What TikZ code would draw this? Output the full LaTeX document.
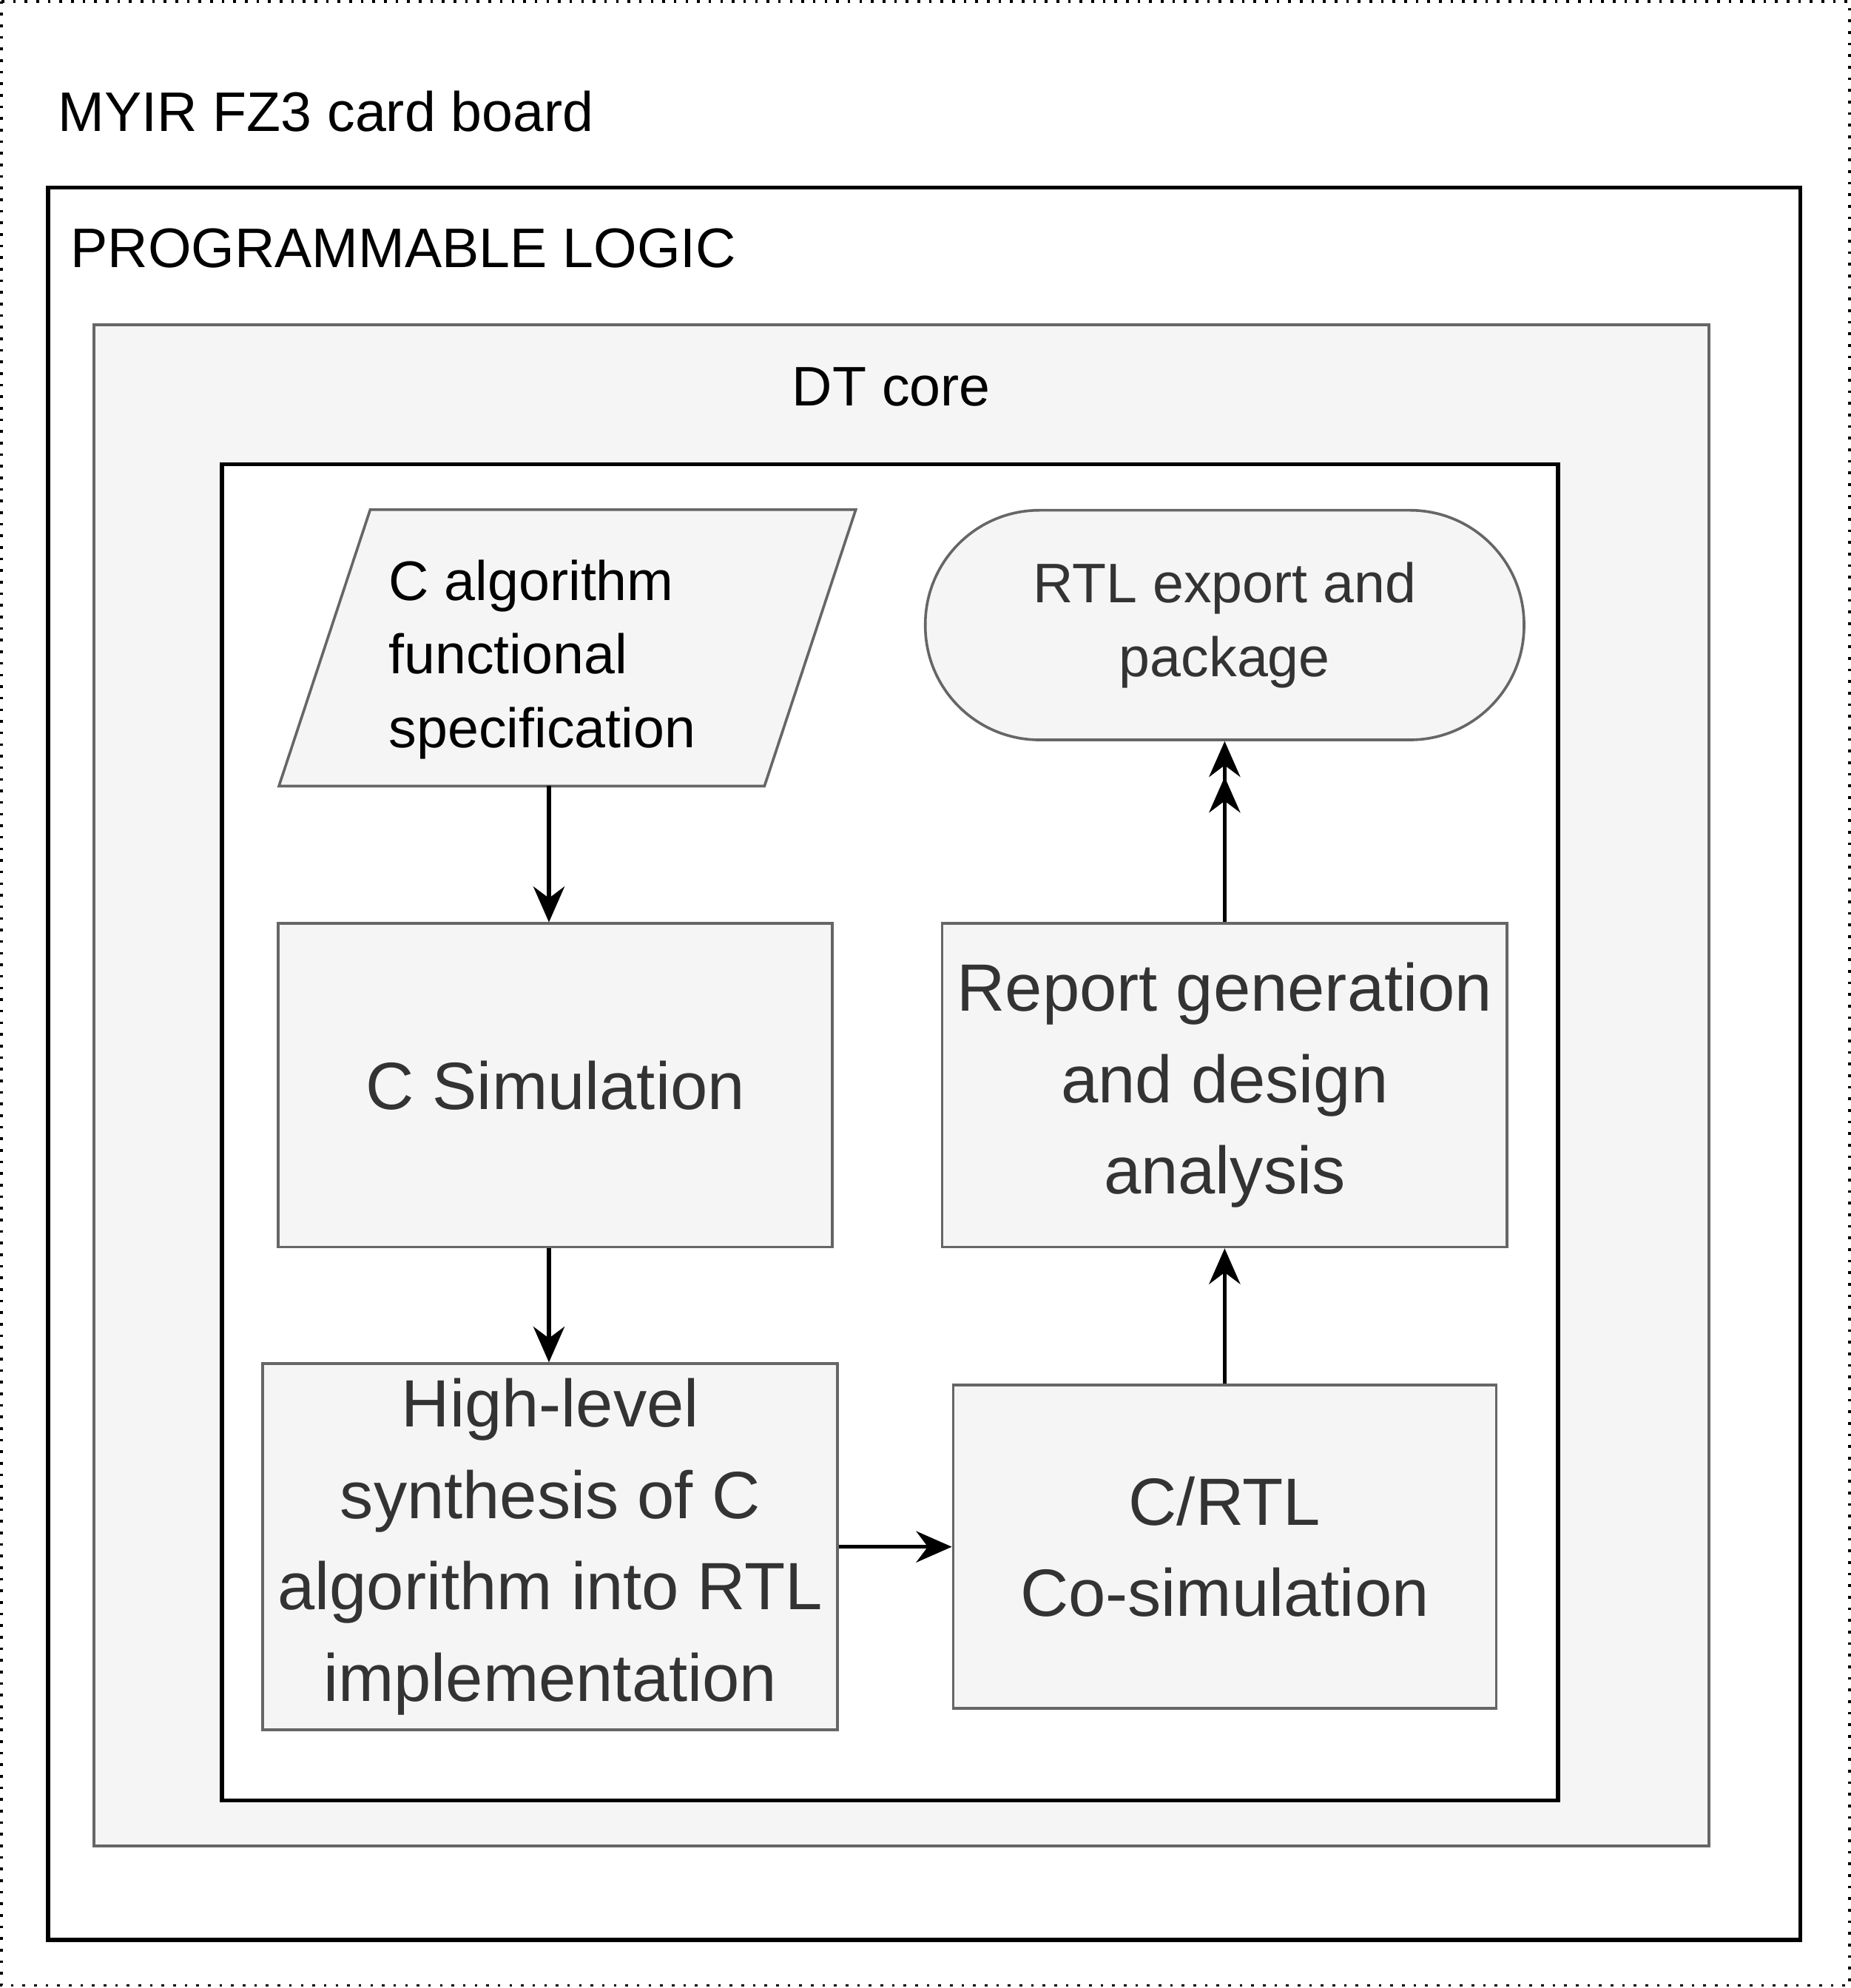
\documentclass[tikz,border=0pt]{standalone}
\usepackage{fontspec}
\setmainfont{Liberation Sans}
\usetikzlibrary{arrows.meta}
\definecolor{boxfill}{HTML}{F5F5F5}
\definecolor{boxline}{HTML}{666666}
\definecolor{boxtext}{HTML}{333333}

\begin{document}
\begin{tikzpicture}[x=0.01cm,y=-0.01cm,
    grayframe/.style={draw=boxline,fill=boxfill,line width=0.6pt},
    blackframe/.style={draw=black,line width=0.9pt},
    stepbox/.style={grayframe,text=boxtext,align=center,minimum height=2.55cm,
        font=\fontsize{15}{20.5}\selectfont},
    flow/.style={-{Stealth[length=8pt,width=7pt]},line width=0.9pt}]
    % frames
    \useasboundingbox (0,0) rectangle (1460,1568);
    \draw[dotted,line width=0.6pt] (1,1) rectangle (1459,1566);
    \node[anchor=west,inner sep=0pt,font=\fontsize{12.5}{15}\selectfont] (board) at (45,88) {MYIR FZ3 card board};
    \draw[blackframe] (38,148) rectangle (1420,1530);
    \node[anchor=west,inner sep=0pt,font=\fontsize{12.5}{15}\selectfont] (pl) at (55,196) {PROGRAMMABLE LOGIC};
    \draw[grayframe] (74,256) rectangle (1348,1456);
    \node[font=\fontsize{12.5}{15}\selectfont] (dt) at (703,305) {DT core};
    \draw[blackframe,fill=white] (175,366) rectangle (1229,1420);
    % input and output
    \draw[grayframe] (292,402) -- (675,402) -- (603,620) -- (220,620) -- cycle;
    \coordinate (specb) at (433,620);
    \node[anchor=west,inner sep=0pt,align=left,font=\fontsize{12.5}{16.5}\selectfont] (spec) at (306,520)
        {C algorithm\\functional\\specification};
    \node[grayframe,rounded corners=0.9cm,minimum width=4.72cm,minimum height=1.81cm,
          text=boxtext,align=center,font=\fontsize{12.5}{16.5}\selectfont] (rtl) at (966,493)
        {RTL export and\\package};
    % steps
    \node[stepbox,minimum width=4.37cm] (csim) at (438,856) {C Simulation};
    \node[stepbox,minimum width=4.28cm] (report) at (966,856)
        {Report generation\\and design\\analysis};
    \node[stepbox,minimum width=4.28cm] (hls) at (434,1220)
        {High-level\\synthesis of C\\algorithm into RTL\\implementation};
    \node[stepbox,minimum width=4.28cm] (cosim) at (966,1220)
        {C/RTL\\Co-simulation};
    % arrows
    \draw[flow] (specb) -- (specb |- csim.north);
    \draw[flow] (specb |- csim.south) -- (specb |- hls.north);
    \draw[flow] (hls.east) -- (cosim.west);
    \draw[flow] (cosim.north) -- (report.south);
    \draw[-{Stealth[length=8pt,width=7pt]Stealth[length=8pt,width=7pt]},line width=0.9pt]
        (report.north) -- (rtl.south);
\end{tikzpicture}
\end{document}
